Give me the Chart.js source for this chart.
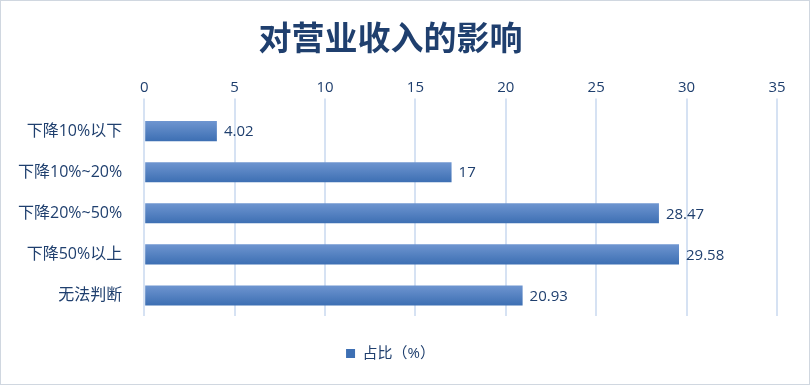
<!DOCTYPE html>
<html>
<head>
<meta charset="utf-8">
<script src="https://cdn.jsdelivr.net/npm/chart.js@4"></script>
<style>
  html, body { margin: 0; padding: 0; background: #fff; }
  #wrap { position: relative; width: 808px; height: 383px; border: 1px solid #d0d7e0; }
</style>
</head>
<body>
<div id="wrap"><canvas id="chart"></canvas></div>
<script>
const categories = ["下降10%以下", "下降10%~20%", "下降20%~50%", "下降50%以上", "无法判断"]
const values = [4.02, 17, 28.47, 29.58, 20.93]
const seriesName = "占比（%）"
const titleText = "对营业收入的影响"

const textColor = "#1f3f6e"
const fontFamily = "'Open Sans', 'Noto Sans CJK SC', sans-serif"

// vertical gradient per bar, built from the scale position
function barFill(ctx){
	const chart = ctx.chart
	const y = chart.scales.y
	if(!y || ctx.dataIndex === undefined) return "#4f7fc0"
	const c = y.getPixelForValue(ctx.dataIndex)
	if(!isFinite(c)) return "#4f7fc0"
	const h = 10
	const g = chart.ctx.createLinearGradient(0, c - h, 0, c + h)
	g.addColorStop(0, "#6e95d0")
	g.addColorStop(1, "#3d6fb3")
	return g
}

const valueLabels = {
	id: "valueLabels",
	afterDatasetsDraw(chart){
		const ctx = chart.ctx
		const meta = chart.getDatasetMeta(0)
		ctx.save()
		ctx.font = "15px " + fontFamily
		ctx.fillStyle = textColor
		ctx.textAlign = "left"
		ctx.textBaseline = "middle"
		meta.data.forEach((bar, i) => {
			ctx.fillText(String(values[i]), bar.x + 7, bar.y + 1)
		})
		ctx.restore()
	}
}

new Chart(document.querySelector("#chart").getContext("2d"), {
	type: "bar",
	data: {
		labels: categories,
		datasets: [{
			label: seriesName,
			data: values,
			backgroundColor: barFill,
			borderWidth: 0,
			categoryPercentage: 1,
			barPercentage: 0.49
		}]
	},
	options: {
		indexAxis: "y",
		responsive: true,
		maintainAspectRatio: false,
		animation: false,
		layout: { padding: { left: 3, right: 32, top: 6, bottom: 13 } },
		scales: {
			x: {
				position: "top",
				min: 0,
				max: 35,
				ticks: { stepSize: 5, color: textColor, font: { size: 15, family: fontFamily }, padding: 2 },
				grid: { color: "#d6e2f3", lineWidth: 2, tickLength: 12, drawTicks: true },
				border: { display: false }
			},
			y: {
				ticks: { color: textColor, font: { size: 16, family: fontFamily }, padding: 14 },
				grid: { display: false },
				border: { display: false }
			}
		},
		plugins: {
			title: {
				display: true,
				text: titleText,
				color: textColor,
				font: { size: 33, weight: "bold", family: fontFamily },
				padding: { top: 14, bottom: 16 }
			},
			legend: {
				position: "bottom",
				labels: {
					color: textColor,
					font: { size: 15, family: fontFamily },
					boxWidth: 9,
					boxHeight: 9,
					padding: 30
				}
			},
			tooltip: { enabled: false }
		}
	},
	plugins: [valueLabels]
})
</script>
</body>
</html>
